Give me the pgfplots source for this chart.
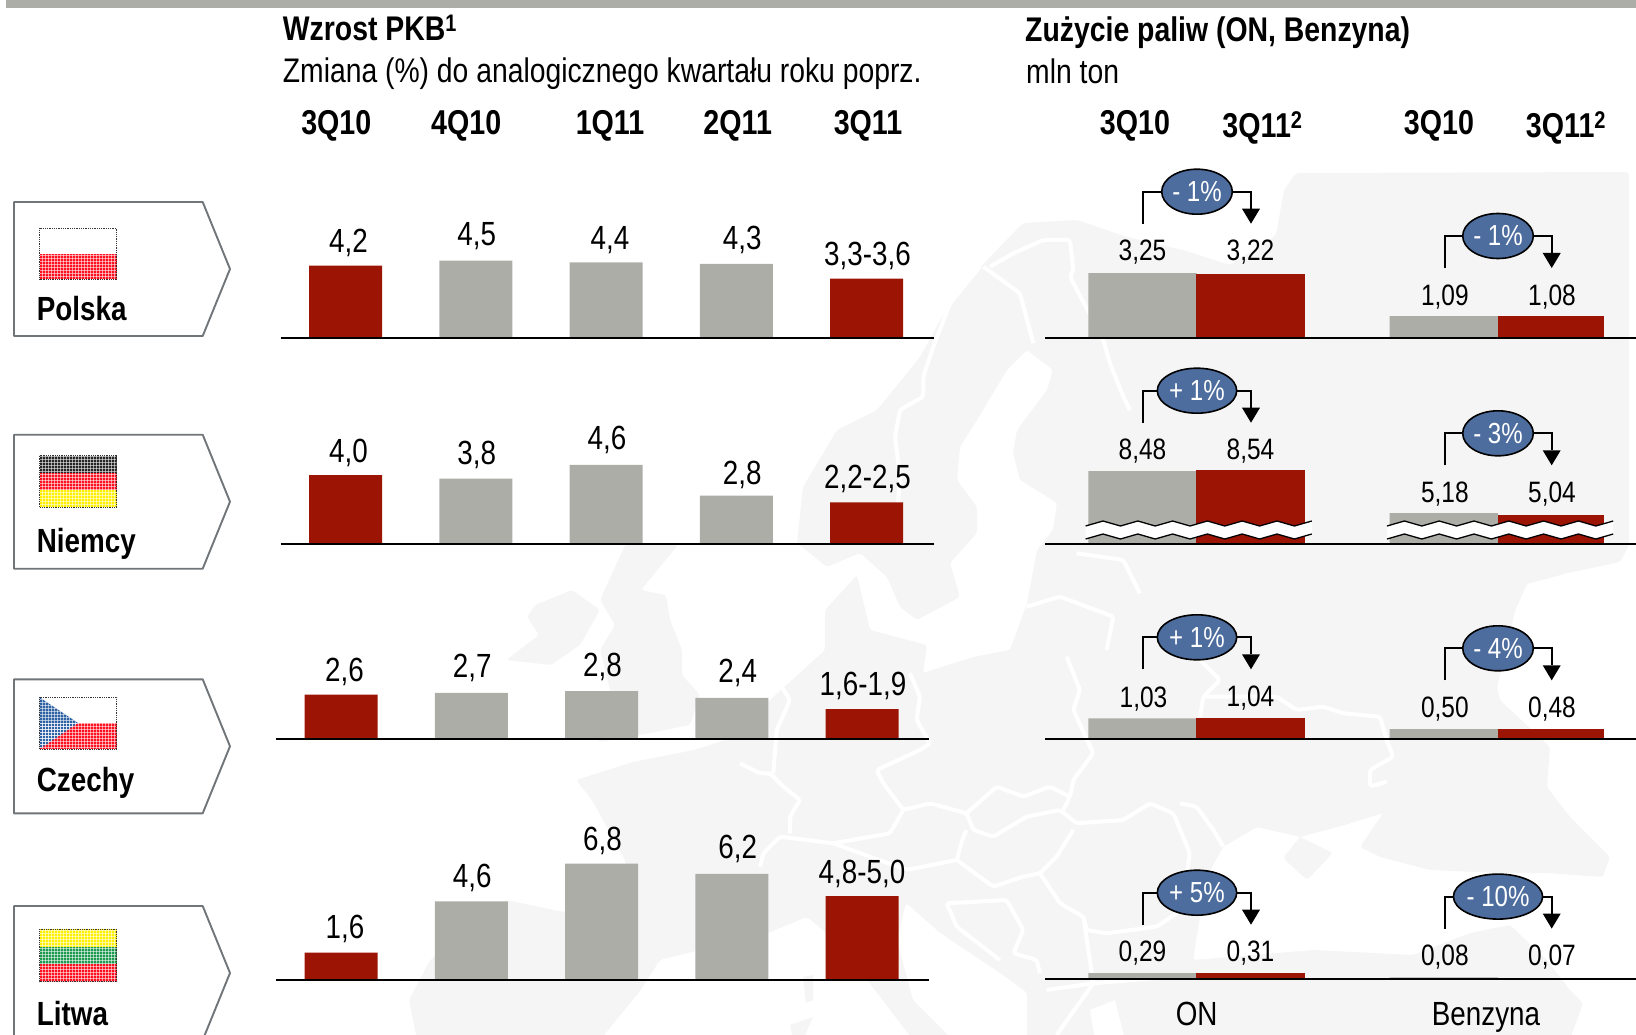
\documentclass[border=0pt]{standalone}
\usepackage{fontspec}
\setmainfont{Liberation Sans}[FakeStretch=0.83]
\usepackage{pgfplots}
\usepackage{pgfplotstable}
\pgfplotsset{compat=1.18}
\usetikzlibrary{patterns}
\definecolor{barg}{HTML}{ADADA8}
\definecolor{barr}{HTML}{9B1404}
\definecolor{land}{HTML}{F5F5F5}
\definecolor{bub}{HTML}{4D6D9E}
\definecolor{boxc}{HTML}{70757A}
\definecolor{fr}{HTML}{FF1020}
\definecolor{fg}{HTML}{1E9A50}
\definecolor{fb}{HTML}{2F62A4}
\definecolor{fy}{HTML}{FFF000}
\newcommand{\fsz}[1]{\fontsize{#1}{#1}\selectfont}
\pgfplotsset{
  rowbase/.style={scale only axis, anchor=south west, axis x line=bottom, axis y line=none,
    xtick=\empty, ytick=\empty, clip mode=individual, axis on top,
    axis line style={-,black,line width=2pt}, ybar, bar shift=0pt,
    nodes near coords, point meta=explicit symbolic,
    nodes near coords align={anchor=base},
    visualization depends on={value \thisrow{dx}\as\dx},
    visualization depends on={value \thisrow{dy}\as\dy},
    every node near coord/.append style={anchor=base, inner sep=0pt, text=black, xshift=\dx pt, yshift=\dy pt}},
  rowL/.style={rowbase, width=653pt, height=130pt, xmin=-0.4975, xmax=4.5158, ymin=0, ymax=7.602,
    every node near coord/.append style={font=\fsz{33.5}}},
  rowR/.style={rowbase, width=590.6pt, height=110pt, xmin=-0.899, xmax=4.569, ymin=0, ymax=5.5,
    every node near coord/.append style={font=\fsz{29.5}}},
  gbarL/.style={fill=barg, draw=none, bar width=73pt},
  rbarL/.style={fill=barr, draw=none, bar width=73pt},
  gbarR/.style={fill=barg, draw=none, bar width=108.4pt},
  rbarR/.style={fill=barr, draw=none, bar width=108.6pt},
  rbarB/.style={fill=barr, draw=none, bar width=106pt},
}
\newcommand{\chg}[4]{% cx cy leftdist rightdist
  \begin{scope}[x=1pt,y=-1pt]
  \pgfmathsetmacro{\lx}{#1-#3}\pgfmathsetmacro{\rx}{#1+#4}
  \pgfmathsetmacro{\by}{#2+32}
  \pgfmathsetmacro{\ty}{#2+17}
  \draw[black,line width=2.2pt] (\lx,\by) -- (\lx,#2) -- (#1,#2) -- (\rx,#2) -- (\rx,\ty);
  \fill[black] (\rx-9,\ty) -- (\rx+9,\ty) -- (\rx,\by) -- cycle;
  \end{scope}
}
\newcommand{\bubl}[4]{\begin{scope}[x=1pt,y=-1pt]
  \filldraw[fill=bub,draw=black,line width=1.6pt] (#1,#2) ellipse [x radius=#3pt,y radius=22.5pt];
  \node[text=white,font=\fsz{29},inner sep=0pt] at (#1,#2) {#4};
  \end{scope}}
\newcommand{\arrowbox}[1]{%
  \begin{scope}[x=1pt,y=-1pt]
  \pgfmathsetmacro{\yb}{#1+134}\pgfmathsetmacro{\ym}{#1+67}
  \filldraw[fill=white,draw=boxc,line width=1.9pt,line join=round] (14,#1) -- (202.7,#1) -- (230,\ym) -- (202.7,\yb) -- (14,\yb) -- cycle;
  \end{scope}}
\newcommand{\brk}[1]{\begin{scope}[x=1pt,y=-1pt,shift={(#1,0)}]
  \fill[white] (0,526)--(17.4,521)--(34.8,526)--(52.2,521)--(69.6,526)--(87,521)--(104.4,526)--(121.8,521)--(139.2,526)--(156.6,521)--(174,526)--(191.4,521)--(208.8,526)--(226.2,521)--(226.2,534)--(208.8,539)--(191.4,534)--(174,539)--(156.6,534)--(139.2,539)--(121.8,534)--(104.4,539)--(87,534)--(69.6,539)--(52.2,534)--(34.8,539)--(17.4,534)--(0,539)--cycle;
  \draw[black,line width=1.3pt] (0,526)--(17.4,521)--(34.8,526)--(52.2,521)--(69.6,526)--(87,521)--(104.4,526)--(121.8,521)--(139.2,526)--(156.6,521)--(174,526)--(191.4,521)--(208.8,526)--(226.2,521);
  \draw[black,line width=1.3pt] (0,539)--(17.4,534)--(34.8,539)--(52.2,534)--(69.6,539)--(87,534)--(104.4,539)--(121.8,534)--(139.2,539)--(156.6,534)--(174,539)--(191.4,534)--(208.8,539)--(226.2,534);
  \end{scope}}
\tikzset{fmesh/.style={pattern=grid,pattern color=white,opacity=.55}}
\begin{document}
\begin{tikzpicture}
\path[use as bounding box] (0,0) rectangle (1636pt,-1035pt);
\clip (0,0) rectangle (1636pt,-1035pt);
% ---------- background map
\begin{scope}[x=1pt,y=-1pt]
\fill[land,rounded corners=3pt] (417,1040)--(409,1000)--(430,960)--(506,900)--(564,912)--(630,905)--(625,860)--(592,800)--(576,780)--(633,762)--(694,750)--(731,738)--(770,700)--(825,650)--(825,610)--(857,575)--(870,630)--(927,645)--(923,673)--(973,657)--(1010,650)--(1027,603)--(1037,550)--(1053,530)--(1057,503)--(1020,480)--(1013,453)--(1017,430)--(1047,390)--(1053,370)--(1027,350)--(1007,370)--(977,420)--(960,447)--(957,480)--(977,507)--(977,533)--(950,563)--(960,597)--(917,620)--(900,607)--(887,577)--(860,553)--(827,567)--(797,543)--(803,487)--(837,430)--(877,410)--(920,357)--(953,297)--(990,257)--(1023,223)--(1077,220)--(1127,237)--(1183,250)--(1230,265)--(1276,235)--(1284,190)--(1296,173)--(1629,172)--(1629,545)--(1620,562)--(1568,573)--(1527,584)--(1515,611)--(1497,687)--(1500,700)--(1550,747)--(1547,787)--(1570,817)--(1610,857)--(1603,877)--(1547,873)--(1497,873)--(1430,870)--(1380,857)--(1360,847)--(1383,813)--(1345,825)--(1300,837)--(1283,858)--(1307,880)--(1333,853)--(1300,837)--(1257,827)--(1223,847)--(1205,880)--(1200,917)--(1193,960)--(1313,950)--(1413,955)--(1470,933)--(1510,925)--(1547,960)--(1570,990)--(1583,1003)--(1570,1040)--cycle;
% UK, Ireland
\fill[land,rounded corners=3pt] (625,545)--(678,545)--(641,590)--(666,595)--(670,620)--(682,650)--(682,675)--(700,695)--(690,725)--(640,735)--(600,742)--(590,735)--(625,720)--(610,690)--(600,650)--(615,625)--(600,600)--cycle;
\fill[land,rounded corners=3pt] (535,605)--(572,590)--(600,610)--(580,645)--(551,665)--(506,660)--(539,635)--(527,617)--cycle;
% seas
\fill[white,rounded corners=3pt] (600,1040)--(641,990)--(660,960)--(700,950)--(768,933)--(807,917)--(826,933)--(850,973)--(867,980)--(913,1040)--cycle;
\fill[white,rounded corners=3pt] (906,903)--(940,933)--(1000,973)--(1027,993)--(1027,1040)--(953,1040)--(913,1000)--(897,940)--cycle;
\fill[white] (1090,1010)--(1115,1000)--(1125,1040)--(1095,1040)--cycle;
\fill[land] (803,977)--(813,975)--(813,1000)--(806,1003)--cycle;
\fill[land] (790,1025)--(813,1017)--(803,1040)--(793,1040)--cycle;
\end{scope}
% border lines, zoom coordinates
\begin{scope}[shift={(740pt,-640pt)},x=.3333pt,y=-.3333pt,white,line width=4pt,line join=round,rounded corners=3pt]
\draw (570,310)--(540,330)--(410,390)--(430,430)--(490,510)--(570,490)--(680,520)--(700,570)--(760,590)--(860,530)--(960,510)--(1010,550)--(1150,540)--(1230,490)--(1300,520)--(1350,640)--(1340,700);
\draw (680,520)--(770,440)--(850,470)--(930,440)--(990,470)--(970,510);
\draw (980,50)--(1020,150)--(1000,210)--(1060,340)--(1000,420)--(990,470);
\draw (1000,570)--(950,650)--(900,700)--(850,710)--(760,740)--(650,660)--(670,590)--(680,570);
\draw (490,510)--(450,580)--(280,610)--(120,590)--(70,640)--(60,680);
\draw (650,660)--(500,690)--(280,610);
\draw (900,700)--(960,790)--(1030,830)--(1040,870)--(1100,880)--(1250,860)--(1340,800);
\draw (620,790)--(650,860)--(780,960);
\draw (620,790)--(800,780)--(850,870)--(820,940)--(890,960)--(900,1000);
\draw (180,480)--(130,440)--(90,400)--(60,400)--(0,370);
\draw (180,480)--(150,530)--(150,580);
\draw (570,310)--(530,240)--(540,170)--(510,100);
\draw (100,100)--(150,180)--(110,270)--(100,400);
\draw (920,1050)--(1060,1030)--(1300,1010);
\draw (1030,830)--(1060,1030)--(950,1185);
\end{scope}
\begin{scope}[shift={(760pt,-170pt)},x=.3333pt,y=-.3333pt,white,line width=4pt,line join=round,rounded corners=3pt]
\draw (660,290)--(570,400)--(520,530)--(490,620)--(490,680)--(420,720)--(405,800)--(420,920)--(410,1050)--(400,1120);
\draw (670,290)--(780,370)--(820,520);
\draw (690,290)--(760,250)--(850,210)--(930,210)--(940,300)--(930,320)--(1030,510)--(1050,580)--(1090,680)--(1110,720);
\draw (950,1150)--(1090,1170)--(1140,1270);
\draw (800,1310)--(900,1280)--(1060,1340);
\draw (1060,1340)--(1040,1440);
\end{scope}
\begin{scope}[shift={(1180pt,-600pt)},x=.3333pt,y=-.3333pt,white,line width=4pt,line join=round,rounded corners=3pt]
\draw (50,170)--(120,240)--(70,290)--(60,350);
\draw (70,290)--(290,290)--(350,330)--(430,320)--(490,340)--(600,350)--(620,420)--(640,470)--(570,510)--(570,560)--(620,545);
\draw (0,610)--(50,620)--(100,690)--(130,740);
\end{scope}
\begin{scope}[x=1pt,y=-1pt]
\fill[barg] (6,0) rectangle (1636,8);
\end{scope}
% country boxes
\arrowbox{202}
\arrowbox{434.7}
\arrowbox{679.3}
\arrowbox{906}
% flags
\begin{scope}[x=1pt,y=-1pt]
\fill[white] (39.5,228.3) rectangle (116.7,254);
\fill[fr] (39.5,254) rectangle (116.7,279.3);
\fill[fmesh] (39.5,254) rectangle (116.7,279.3);
\draw[black!80,densely dotted,line width=.8pt] (39.5,228.3) rectangle (116.7,279.3);
\fill[black!85] (39.5,455.7) rectangle (116.7,473);
\fill[fr] (39.5,473) rectangle (116.7,490);
\fill[fy] (39.5,490) rectangle (116.7,507.3);
\fill[fmesh] (39.5,455.7) rectangle (116.7,507.3);
\draw[black!80,densely dotted,line width=.8pt] (39.5,455.7) rectangle (116.7,507.3);
\fill[white] (39.5,697.3) rectangle (116.7,723);
\fill[fr] (39.5,723) rectangle (116.7,749);
\fill[fb] (39.5,697.3) -- (78,723) -- (39.5,749) -- cycle;
\fill[fmesh] (39.5,723) rectangle (116.7,749);
\fill[fmesh] (39.5,697.3) -- (78,723) -- (39.5,749) -- cycle;
\draw[black!80,densely dotted,line width=.8pt] (39.5,697.3) rectangle (116.7,749);
\fill[fy] (39.5,929.3) rectangle (116.7,947);
\fill[fg] (39.5,947) rectangle (116.7,964);
\fill[fr] (39.5,964) rectangle (116.7,981.7);
\fill[fmesh] (39.5,929.3) rectangle (116.7,981.7);
\draw[black!80,densely dotted,line width=.8pt] (39.5,929.3) rectangle (116.7,981.7);
\tikzset{tl/.style={anchor=base west,inner sep=0pt,font=\bfseries\fsz{33.5}},
  tt/.style={anchor=base west,inner sep=0pt,font=\bfseries\fsz{34.2}},
  tn/.style={anchor=base west,inner sep=0pt,font=\fsz{34.1}}}
\node[tl] at (36.7,320) {Polska};
\node[tl] at (36.7,552.7) {Niemcy};
\node[tl] at (36.7,791.7) {Czechy};
\node[tl] at (36.7,1025.7) {Litwa};
\node[tt] at (282.7,40.3) {Wzrost PKB\textsuperscript{1}};
\node[tt] at (1025,42) {Zużycie paliw (ON, Benzyna)};
\node[tn] at (282.7,82.5) {Zmiana (\%) do analogicznego kwartału roku poprz.};
\node[tn] at (1026,83.5) {mln ton};
\tikzset{th/.style={anchor=base,inner sep=0pt,font=\bfseries\fsz{34.5}}}
\node[th] at (336.3,134.3) {3Q10};
\node[th] at (466.2,134.3) {4Q10};
\node[th] at (610,134.3) {1Q11};
\node[th] at (737.7,134.3) {2Q11};
\node[th] at (868,134.3) {3Q11};
\node[th] at (1135,134.3) {3Q10};
\node[th] at (1262.5,137.3) {3Q11\textsuperscript{2}};
\node[th] at (1439,134.3) {3Q10};
\node[th] at (1566,137.3) {3Q11\textsuperscript{2}};
\node[anchor=base,inner sep=0pt,font=\fsz{33.5}] at (1196.7,1025) {ON};
\node[anchor=base,inner sep=0pt,font=\fsz{33.5}] at (1486,1025) {Benzyna};
\end{scope}
% ---------- left panel
\begin{axis}[rowL, at={(280.7pt,-337.5pt)}]
\addplot[gbarL] table[x=x,y=y,meta=lab] {
x y lab dx dy
1 4.5 4,5 1 15
2 4.4 4,4 4 13
3 4.3 4,3 6 14
};
\addplot[rbarL] table[x=x,y=y,meta=lab] {
x y lab dx dy
0 4.2 4,2 3 13
4 3.45 3,3-3,6 1 13
};
\end{axis}
\begin{axis}[rowL, at={(280.7pt,-543.5pt)}]
\addplot[gbarL] table[x=x,y=y,meta=lab] {
x y lab dx dy
1 3.8 3,8 1 14.5
2 4.6 4,6 1 15
3 2.8 2,8 6 11
};
\addplot[rbarL] table[x=x,y=y,meta=lab] {
x y lab dx dy
0 4.0 4,0 3 13
4 2.4 2,2-2,5 1 13.5
};
\end{axis}
\begin{axis}[rowL, at={(276.2pt,-739pt)}]
\addplot[gbarL] table[x=x,y=y,meta=lab] {
x y lab dx dy
1 2.7 2,7 1 15
2 2.8 2,8 1 15
3 2.4 2,4 6 15
};
\addplot[rbarL] table[x=x,y=y,meta=lab] {
x y lab dx dy
0 2.6 2,6 3.5 13
4 1.75 1,6-1,9 1 13.5
};
\end{axis}
\begin{axis}[rowL, at={(276.2pt,-980pt)}]
\addplot[gbarL] table[x=x,y=y,meta=lab] {
x y lab dx dy
1 4.6 4,6 1 13.5
2 6.8 6,8 1 13
3 6.2 6,2 6 15.5
};
\addplot[rbarL] table[x=x,y=y,meta=lab] {
x y lab dx dy
0 1.6 1,6 4 14.5
4 4.9 4,8-5,0 0 13
};
\end{axis}
% ---------- right panel
\begin{axis}[rowR, at={(1045.4pt,-338pt)}]
\addplot[gbarR] table[x=x,y=y,meta=lab] {
x y lab dx dy
0 3.25 3,25 0 12.5
2.79 1.09 1,09 1 11
};
\addplot[rbarR] table[x=x,y=y,meta=lab] {
x y lab dx dy
1 3.22 3,22 0 13
};
\addplot[rbarB] table[x=x,y=y,meta=lab] {
x y lab dx dy
3.782 1.08 1,08 1 11
};
\end{axis}
\begin{axis}[rowR, at={(1045.4pt,-543.5pt)}, height=76.2pt, ymin=2.78, ymax=8.78]
\addplot[gbarR] table[x=x,y=y,meta=lab] {
x y lab dx dy
0 8.48 8,48 0 11.4
2.79 5.18 5,18 1 10.3
};
\addplot[rbarR] table[x=x,y=y,meta=lab] {
x y lab dx dy
1 8.54 8,54 0 11
};
\addplot[rbarB] table[x=x,y=y,meta=lab] {
x y lab dx dy
3.782 5.04 5,04 1 12
};
\end{axis}
\begin{axis}[rowR, at={(1045.4pt,-739pt)}]
\addplot[gbarR] table[x=x,y=y,meta=lab] {
x y lab dx dy
0 1.03 1,03 1 11
2.79 0.50 0,50 1 12
};
\addplot[rbarR] table[x=x,y=y,meta=lab] {
x y lab dx dy
1 1.04 1,04 0 12
};
\addplot[rbarB] table[x=x,y=y,meta=lab] {
x y lab dx dy
3.782 0.48 0,48 1 12
};
\end{axis}
\begin{axis}[rowR, at={(1045.4pt,-979pt)}]
\addplot[gbarR] table[x=x,y=y,meta=lab] {
x y lab dx dy
0 0.29 0,29 0 11.6
2.79 0.08 0,08 1 12
};
\addplot[rbarR] table[x=x,y=y,meta=lab] {
x y lab dx dy
1 0.31 0,31 0 11.6
};
\addplot[rbarB] table[x=x,y=y,meta=lab] {
x y lab dx dy
3.782 0.07 0,07 1 12
};
\end{axis}
% breaks
\brk{1085.6}
\brk{1387}
% change bubbles
\chg{1197}{191.7}{54.2}{54}\bubl{1197}{191.7}{35.3}{- 1\%}
\chg{1498}{236}{53.4}{53.7}\bubl{1498}{236}{35.3}{- 1\%}
\chg{1197}{390.7}{54.2}{54}\bubl{1197}{390.7}{39.7}{+ 1\%}
\chg{1498}{433.3}{53.4}{53.7}\bubl{1498}{433.3}{35.3}{- 3\%}
\chg{1197}{637.3}{54.2}{54}\bubl{1197}{637.3}{39.7}{+ 1\%}
\chg{1498}{648.3}{53.4}{53.7}\bubl{1498}{648.3}{35.3}{- 4\%}
\chg{1197}{892.7}{54.2}{54}\bubl{1197}{892.7}{39.7}{+ 5\%}
\chg{1498}{896.6}{53.4}{53.7}\bubl{1498}{896.6}{44.6}{- 10\%}
\end{tikzpicture}
\end{document}
